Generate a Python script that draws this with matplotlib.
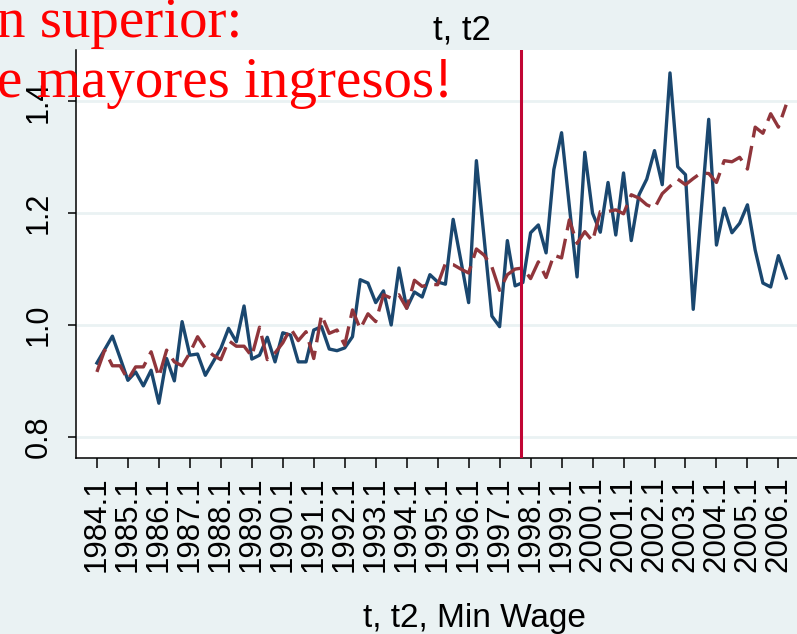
import numpy as np
import matplotlib.pyplot as plt

# quarterly series, 1984.1 - 2006.2
t_vals = [0.932, 0.956, 0.980, 0.941, 0.901, 0.916, 0.891, 0.919, 0.860, 0.940,
          0.900, 1.006, 0.946, 0.948, 0.910, 0.934, 0.958, 0.994, 0.970, 1.034,
          0.939, 0.946, 0.978, 0.934, 0.986, 0.982, 0.934, 0.934, 0.991, 0.997,
          0.957, 0.954, 0.959, 0.979, 1.081, 1.075, 1.040, 1.061, 1.000, 1.102,
          1.030, 1.059, 1.050, 1.090, 1.077, 1.073, 1.189, 1.115, 1.040, 1.294,
          1.155, 1.016, 0.997, 1.151, 1.070, 1.076, 1.165, 1.179, 1.129, 1.278,
          1.344, 1.213, 1.086, 1.309, 1.200, 1.166, 1.255, 1.161, 1.272, 1.151,
          1.233, 1.261, 1.312, 1.251, 1.451, 1.283, 1.269, 1.028, 1.198, 1.368,
          1.143, 1.209, 1.165, 1.182, 1.215, 1.134, 1.075, 1.068, 1.124, 1.084]

t2_vals = [0.916, 0.955, 0.927, 0.927, 0.902, 0.925, 0.925, 0.952, 0.907, 0.955,
           0.934, 0.927, 0.950, 0.979, 0.958, 0.946, 0.938, 0.972, 0.962, 0.962,
           0.944, 0.996, 0.938, 0.950, 0.968, 0.994, 0.972, 0.988, 0.940, 1.018,
           0.985, 0.991, 0.964, 1.027, 0.993, 1.020, 1.006, 1.054, 1.048, 1.054,
           1.030, 1.080, 1.069, 1.073, 1.072, 1.110, 1.108, 1.100, 1.093, 1.136,
           1.125, 1.104, 1.062, 1.090, 1.100, 1.102, 1.083, 1.113, 1.085, 1.125,
           1.120, 1.188, 1.146, 1.167, 1.150, 1.203, 1.203, 1.206, 1.199, 1.233,
           1.227, 1.215, 1.209, 1.235, 1.248, 1.261, 1.251, 1.262, 1.272, 1.271,
           1.255, 1.294, 1.292, 1.300, 1.279, 1.354, 1.343, 1.378, 1.354, 1.394]

years = list(range(1984, 2007))
tick_labels = [f"{y}.1" for y in years]
y_ticks = [0.8, 1.0, 1.2, 1.4]
break_point = 54.8  # vertical reference line (quarter index)

bg = '#eaf2f3'
W, H = 797, 634
fig = plt.figure(figsize=(W / 100, H / 100), dpi=100, facecolor=bg)
ax = fig.add_axes([76 / W, 176 / H, 721 / W, 408 / H])
ax.set_facecolor('white')

q = np.arange(len(t_vals))
for v in y_ticks:
    ax.axhline(v, color=bg, lw=2, zorder=0)

ax.plot(q, t_vals, color='#1a476f', lw=2.4, zorder=3)
ax.plot(q, t2_vals, color='#90353b', lw=2.4, ls=(0, (7.5, 2.6)), zorder=3)
ax.axvline(break_point, color='#c10534', lw=2.2, zorder=4)

ax.set_xlim(-2.7, 90.4)
ax.set_ylim(0.762, 1.492)

ax.set_xticks(np.arange(0, 4 * len(years), 4))
ax.set_xticklabels(tick_labels, rotation=90, fontsize=22.5, family='Liberation Sans')
ax.set_yticks(y_ticks)
ax.set_yticklabels([f"{v:.1f}" for v in y_ticks], rotation=90, va='center',
                   fontsize=22, family='Liberation Sans')
ax.tick_params(axis='x', length=7, width=1.1, pad=6)
ax.tick_params(axis='y', length=6, width=1.1, pad=10)

for s in ['top', 'right']:
    ax.spines[s].set_visible(False)
for s in ['left', 'bottom']:
    ax.spines[s].set_linewidth(1.1)

fig.text(462 / W, 1 - 30 / H, 't, t2', ha='center', va='center',
         fontsize=25, family='Liberation Sans')
fig.text(474 / W, 1 - 627 / H, 't, t2, Min Wage', ha='center', va='baseline',
         fontsize=24, family='Liberation Sans')

# slide text overlay (clipped at the left edge)
fig.text(-3 / W, 1 - 37 / H, 'n superior:', ha='left', va='baseline',
         fontsize=41, family='Liberation Serif', color='#ff0000', zorder=10)
fig.text(-3 / W, 1 - 97 / H, 'e mayores ingresos!', ha='left', va='baseline',
         fontsize=41, family='Liberation Serif', color='#ff0000', zorder=10)

fig.savefig('out.png', dpi=100, facecolor=bg)
